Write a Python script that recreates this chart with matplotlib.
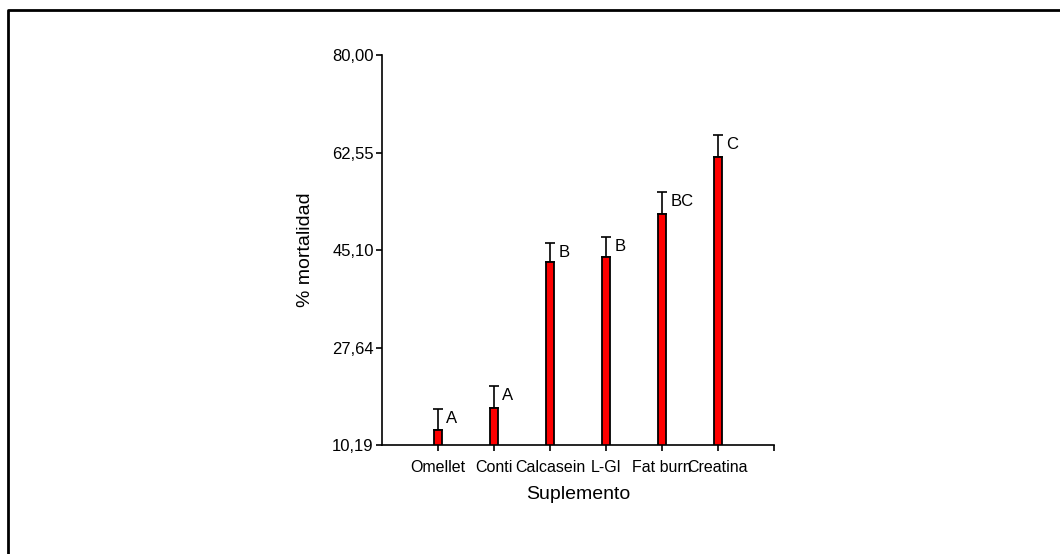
import numpy as np
import matplotlib.pyplot as plt
from matplotlib.lines import Line2D

plt.rcParams['font.family'] = ['Liberation Sans', 'DejaVu Sans']

# Datos
suplementos = ["Omellet", "Conti", "Calcasein", "L-Gl", "Fat burn", "Creatina"]
mortalidad = [12.9, 16.9, 42.9, 43.8, 51.6, 61.8]
error_sup = [3.7, 3.8, 3.5, 3.7, 3.9, 3.9]
letras = ["A", "A", "B", "B", "BC", "C"]
yticks = [10.19, 27.64, 45.10, 62.55, 80.00]

fig = plt.figure(figsize=(10.6, 5.54), dpi=100)
ax = fig.add_axes([382 / 1060, 1 - 445 / 554, (774 - 382) / 1060, (445 - 55.3) / 554])

x = np.arange(1, len(suplementos) + 1)
ax.bar(x, mortalidad, width=0.14, bottom=0, color='#ff0000', edgecolor='black', linewidth=1.3, zorder=2)
ax.errorbar(x, mortalidad, yerr=[np.zeros(len(x)), error_sup], fmt='none',
            ecolor='black', elinewidth=1.2, capsize=3.5, capthick=1.2, zorder=1)

for xi, m, e, let in zip(x, mortalidad, error_sup, letras):
    ax.annotate(let, (xi, m + e), xytext=(6, -1.5), textcoords='offset points',
                ha='left', va='top', fontsize=12)

ax.set_xlim(0, 7)
ax.set_ylim(yticks[0], yticks[-1])
ax.set_xticks(list(x) + [7])
ax.set_xticklabels(suplementos + [""], fontsize=11.5)
ax.set_yticks(yticks)
ax.set_yticklabels([f"{v:.2f}".replace(".", ",") for v in yticks], fontsize=12)
ax.tick_params(axis='both', length=4, width=1.2, pad=2)
ax.tick_params(axis='x', pad=7)

ax.spines['top'].set_visible(False)
ax.spines['right'].set_visible(False)
ax.spines['left'].set_linewidth(1.2)
ax.spines['bottom'].set_linewidth(1.2)

ax.set_xlabel("Suplemento", fontsize=14, labelpad=8)
ax.set_ylabel("% mortalidad", fontsize=14, labelpad=13)

# marco exterior (solo arriba e izquierda)
fx = 7.5 / 1060
fy = 1 - 10 / 554
fig.add_artist(Line2D([fx, fx, 1], [0, fy, fy], transform=fig.transFigure,
                      color='black', linewidth=2))

fig.savefig("out.png", dpi=100)
